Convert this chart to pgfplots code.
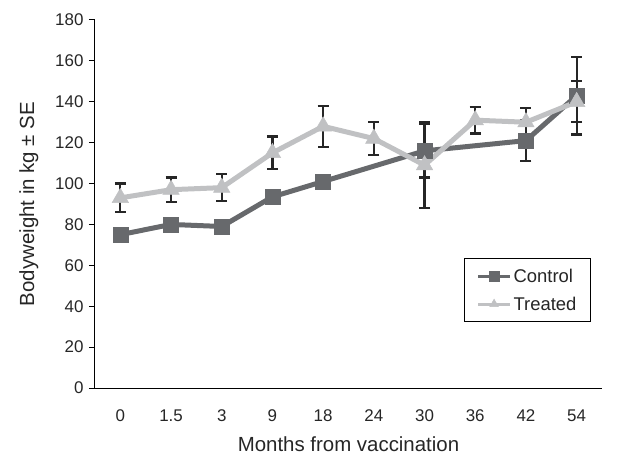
\documentclass[border=0pt]{standalone}
\usepackage{pgfplots}
\pgfplotsset{compat=1.18}
\usepackage{fontspec}
\setmainfont{Liberation Sans}
\definecolor{ctrl}{HTML}{67696C}
\definecolor{trt}{HTML}{C0C1C3}
\begin{document}
\begin{tikzpicture}
\useasboundingbox (-95bp,-66bp) rectangle (545bp,388bp);
\begin{axis}[
  at={(0,0)}, anchor=south west,
  scale only axis, width=507bp, height=368bp,
  xmin=-0.5, xmax=9.5, ymin=0, ymax=180,
  axis x line*=bottom, axis y line*=left,
  axis line style={line width=1bp, black},
  xtick={0,...,9},
  xticklabels={0,1.5,3,9,18,24,30,36,42,54},
  minor xtick={-0.5,0.5,...,9.5},
  ytick={0,20,...,180},
  tick align=outside,
  major tick length=6bp, minor tick length=6bp,
  xtick style={draw=none},
  minor tick style={line width=1bp, black},
  ytick style={line width=1bp, black},
  ticklabel style={font=\fontsize{17}{20}\selectfont, text=black!85},
  xticklabel style={yshift=-12bp},
  yticklabel style={xshift=-2bp},
  /pgf/number format/assume math mode=true,
  xlabel={Months from vaccination},
  ylabel={Bodyweight in kg ± SE},
  label style={font=\fontsize{20.5}{24}\selectfont, text=black!85},
  xlabel style={yshift=-8bp},
  ylabel style={yshift=10bp},
  legend style={at={(0.728,0.179)}, anchor=south west, draw=black, line width=1bp,
    font=\fontsize{18.5}{22}\selectfont, inner xsep=12bp, inner ysep=8bp,
    row sep=9bp, text=black!85},
  legend cell align=left,
  legend image code/.code={
    \draw[mark repeat=2, mark phase=2, line width=3bp, mark size=5bp] plot coordinates {(-4bp,0bp) (12bp,0bp) (28bp,0bp)};
  },
]
\addplot[ctrl, line width=5bp, mark=square*, mark size=7.5bp, mark options={fill=ctrl, draw=ctrl, line width=0.5bp},
  error bars/.cd, y dir=both, y explicit,
  error bar style={black!85, line width=2.2bp},
  error mark options={black!85, rotate=90, mark size=5.5bp, line width=2.2bp}]
  coordinates {
  (0,75) +- (0,2)
  (1,80) +- (0,2)
  (2,79) +- (0,2)
  (3,93.5) +- (0,3)
  (4,101) +- (0,3)
  (6,116) +- (0,13)
  (8,121) +- (0,10)
  (9,143) +- (0,19)
  };
\addlegendentry{Control}
\addplot[trt, line width=5bp, mark=triangle*, mark size=9.5bp, mark options={fill=trt, draw=trt, line width=0.5bp},
  error bars/.cd, y dir=both, y explicit,
  error bar style={black!85, line width=2.2bp},
  error mark options={black!85, rotate=90, mark size=5.5bp, line width=2.2bp}]
  coordinates {
  (0,93) +- (0,7)
  (1,97) +- (0,6)
  (2,98) +- (0,6.5)
  (3,115) +- (0,8)
  (4,128) +- (0,10)
  (5,122) +- (0,8)
  (6,109) +- (0,21)
  (7,131) +- (0,6.5)
  (8,130) +- (0,7)
  (9,140) +- (0,10)
  };
\addlegendentry{Treated}
\end{axis}
\end{tikzpicture}
\end{document}
